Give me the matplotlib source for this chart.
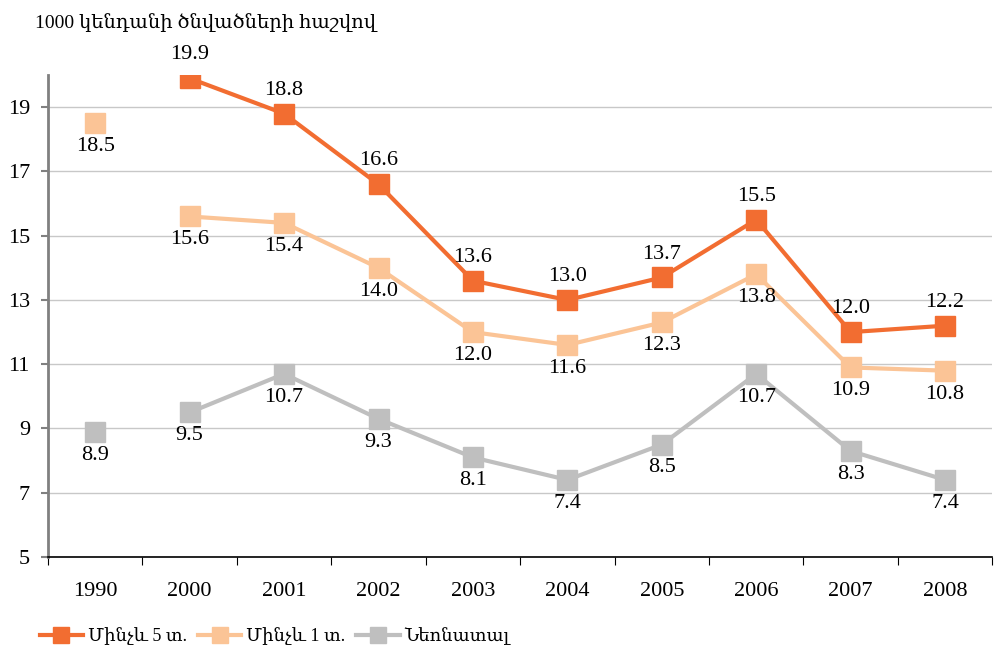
import numpy as np
import matplotlib.pyplot as plt
from matplotlib.lines import Line2D

plt.rcParams['font.family'] = ['Liberation Serif', 'DejaVu Serif']

years = ["1990", "2000", "2001", "2002", "2003", "2004", "2005", "2006", "2007", "2008"]
under5 = [np.nan, 19.9, 18.8, 16.6, 13.6, 13.0, 13.7, 15.5, 12.0, 12.2]
under1 = [18.5, 15.6, 15.4, 14.0, 12.0, 11.6, 12.3, 13.8, 10.9, 10.8]
neonatal = [8.9, 9.5, 10.7, 9.3, 8.1, 7.4, 8.5, 10.7, 8.3, 7.4]

series = [
    ("Մինչև 5 տ.", under5, "#F26D31", "above"),
    ("Մինչև 1 տ.", under1, "#FBC496", "below"),
    ("Նեոնատալ", neonatal, "#BFBFBF", "below"),
]

fig = plt.figure(figsize=(9.94, 6.53), dpi=100)
ax = fig.add_axes([0.0483, 0.147, 0.950, 0.738])
x = np.arange(len(years))

handles = []
for name, vals, color, pos in series:
    vals = np.array(vals, dtype=float)
    # 1990 stands apart, so the line only runs 2000-2008
    ax.plot(x[1:], vals[1:], color=color, lw=3, zorder=3)
    ax.plot(x, vals, ls="none", marker="s", ms=14.5, color=color, zorder=4)
    for xi, v in zip(x, vals):
        if np.isnan(v):
            continue
        off = 10 if pos == "above" else -10
        ax.annotate(f"{v:.1f}", (xi, v), xytext=(0, off), textcoords="offset points",
                    ha="center", va="bottom" if pos == "above" else "top", fontsize=16,
                    zorder=5)
    handles.append(Line2D([], [], color=color, lw=3, marker="s", ms=11, label=name))

ax.set_xlim(-0.5, len(years) - 0.5)
ax.set_ylim(5, 20)
ax.set_yticks(np.arange(5, 20, 2))
ax.tick_params(axis="y", labelsize=16, length=5, color="#808080", width=1.5, pad=8)

ax.set_xticks(np.arange(-0.5, len(years)), labels=[""] * (len(years) + 1))
ax.set_xticks(x, labels=years, minor=True)
ax.tick_params(axis="x", which="major", length=6, color="black")
ax.tick_params(axis="x", which="minor", length=0, labelsize=16, pad=18)

ax.grid(axis="y", color="#C8C8C8", lw=1)
ax.set_axisbelow(True)
for s in ["top", "right"]:
    ax.spines[s].set_visible(False)
ax.spines["left"].set_color("#808080")
ax.spines["left"].set_linewidth(2)
ax.spines["bottom"].set_color("black")
ax.spines["bottom"].set_linewidth(1.2)

fig.text(0.035, 0.965, "1000 կենդանի ծնվածների հաշվով", fontsize=14, va="center")

fig.legend(handles=handles, loc="center left", bbox_to_anchor=(0.040, 0.026), ncol=3,
           frameon=False, fontsize=13, handlelength=2.4, columnspacing=0.6,
           handletextpad=0.28, borderpad=0, borderaxespad=0)

fig.savefig("out.png", dpi=100)
